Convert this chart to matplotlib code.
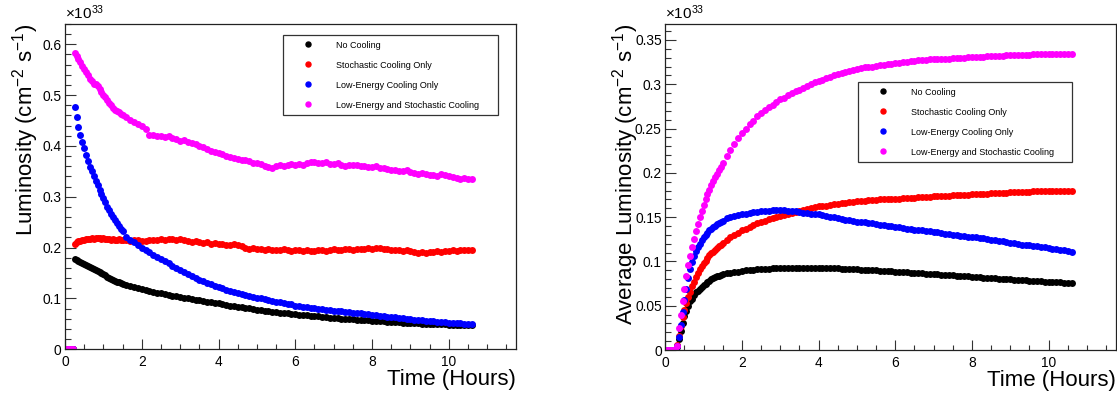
import matplotlib
matplotlib.use("Agg")
import matplotlib.pyplot as plt
from matplotlib.ticker import MultipleLocator, FuncFormatter
from matplotlib.lines import Line2D

plt.rcParams['font.family'] = ['Liberation Sans', 'DejaVu Sans']
plt.rcParams['mathtext.fontset'] = 'custom'
plt.rcParams['mathtext.rm'] = 'Liberation Sans'
plt.rcParams['mathtext.it'] = 'Liberation Sans:italic'
plt.rcParams['mathtext.bf'] = 'Liberation Sans:bold'

# ---------------- data (luminosity in units of 1e33 cm^-2 s^-1) ----------------
hours = [0.00, 0.05, 0.10, 0.15, 0.20,
         0.25, 0.30, 0.35, 0.40, 0.45, 0.50, 0.55, 0.60, 0.65, 0.70,
         0.75, 0.80, 0.85, 0.90, 0.95, 1.00, 1.05, 1.10, 1.15, 1.20,
         1.25, 1.30, 1.35, 1.40, 1.45, 1.50,
         1.6, 1.7, 1.8, 1.9, 2.0, 2.1, 2.2, 2.3, 2.4, 2.5,
         2.6, 2.7, 2.8, 2.9, 3.0, 3.1, 3.2, 3.3, 3.4, 3.5,
         3.6, 3.7, 3.8, 3.9, 4.0, 4.1, 4.2, 4.3, 4.4, 4.5,
         4.6, 4.7, 4.8, 4.9, 5.0, 5.1, 5.2, 5.3, 5.4, 5.5,
         5.6, 5.7, 5.8, 5.9, 6.0, 6.1, 6.2, 6.3, 6.4, 6.5,
         6.6, 6.7, 6.8, 6.9, 7.0, 7.1, 7.2, 7.3, 7.4, 7.5,
         7.6, 7.7, 7.8, 7.9, 8.0, 8.1, 8.2, 8.3, 8.4, 8.5,
         8.6, 8.7, 8.8, 8.9, 9.0, 9.1, 9.2, 9.3, 9.4, 9.5,
         9.6, 9.7, 9.8, 9.9, 10.0, 10.1, 10.2, 10.3, 10.4, 10.5,
         10.6]

series_labels = ["No Cooling", "Stochastic Cooling Only",
                 "Low-Energy Cooling Only", "Low-Energy and Stochastic Cooling"]
series_colors = ["#000000", "#ff0000", "#0000ff", "#ff00ff"]

# Left panel: instantaneous luminosity
lum_none = [0, 0, 0, 0, 0,
            .178, .176, .174, .172, .170, .168, .166, .164, .162, .160,
            .158, .156, .154, .152, .150, .148, .146, .143, .141, .139,
            .137, .135, .133, .132, .130, .128,
            .126, .124, .122, .120, .118, .116, .114, .113, .111, .110,
            .108, .107, .105, .104, .103, .101, .100, .098, .097, .096,
            .094, .093, .092, .091, .090, .089, .087, .086, .085, .084,
            .083, .082, .081, .079, .078, .077, .076, .075, .074, .073,
            .072, .071, .071, .070, .069, .068, .067, .067, .066, .065,
            .065, .064, .063, .062, .062, .061, .060, .060, .059, .059,
            .058, .058, .057, .057, .056, .056, .055, .055, .054, .054,
            .053, .053, .052, .052, .051, .051, .051, .050, .050, .050,
            .049, .049, .049, .049, .048, .048, .048, .048, .047, .047,
            .047]
lum_stoch = [0, 0, 0, 0, 0,
             .207, .210, .212, .213, .214, .215, .216, .217, .216, .218,
             .217, .218, .219, .218, .217, .218, .217, .216, .217, .215,
             .216, .214, .215, .216, .214, .215,
             .214, .213, .215, .214, .212, .213, .214, .215, .214, .216,
             .215, .217, .216, .215, .216, .214, .213, .211, .212, .210,
             .209, .211, .208, .209, .207, .208, .206, .205, .207, .205,
             .203, .200, .198, .199, .197, .198, .196, .197, .195, .196,
             .195, .197, .196, .194, .195, .196, .194, .195, .193, .194,
             .195, .196, .194, .196, .197, .195, .196, .198, .197, .196,
             .197, .198, .197, .199, .198, .200, .199, .198, .197, .196,
             .195, .196, .194, .195, .193, .191, .190, .191, .189, .191,
             .192, .193, .192, .194, .193, .195, .194, .196, .195, .196,
             .195]
lum_lowe = [0, 0, 0, 0, 0,
            .476, .456, .438, .422, .407, .395, .383, .370, .359, .350,
            .341, .332, .323, .314, .305, .297, .289, .280, .273, .266,
            .260, .254, .248, .242, .236, .232,
            .221, .215, .210, .205, .200, .195, .191, .186, .182, .178,
            .174, .169, .164, .160, .156, .152, .148, .144, .140, .137,
            .134, .131, .128, .125, .123, .120, .117, .115, .113, .111,
            .109, .107, .105, .103, .101, .100, .098, .096, .095, .093,
            .092, .090, .089, .088, .086, .085, .084, .083, .082, .081,
            .080, .079, .078, .077, .076, .075, .075, .074, .073, .072,
            .071, .071, .070, .069, .068, .067, .066, .065, .064, .063,
            .063, .062, .061, .060, .059, .058, .058, .057, .056, .055,
            .055, .054, .054, .053, .052, .052, .051, .051, .050, .050,
            .0495]
lum_both = [0, 0, 0, 0, 0,
            .583, .578, .572, .566, .558, .552, .546, .540, .532, .527,
            .522, .522, .517, .512, .506, .500, .496, .490, .485, .480,
            .474, .470, .468, .466, .462, .460,
            .457, .452, .448, .444, .439, .433, .421, .422, .420, .419,
            .418, .420, .416, .414, .410, .412, .408, .406, .403, .400,
            .398, .394, .390, .388, .386, .384, .380, .378, .377, .375,
            .373, .372, .370, .367, .366, .364, .361, .358, .356, .360,
            .362, .361, .363, .364, .362, .365, .363, .366, .368, .369,
            .367, .366, .368, .365, .364, .366, .363, .361, .363, .362,
            .362, .360, .361, .359, .358, .360, .357, .356, .354, .352,
            .353, .351, .350, .352, .349, .347, .345, .346, .344, .342,
            .343, .341, .344, .342, .340, .338, .337, .335, .336, .334,
            .334]

# Right panel: average luminosity
avg_none = [0, 0, 0, 0, 0,
            0, .003, .012, .022, .031, .038, .044, .050, .055, .058,
            .062, .065, .067, .069, .071, .073, .075, .077, .078, .080,
            .081, .082, .083, .084, .085, .0855,
            .0866, .0873, .0880, .0886, .0893, .0898, .0903, .0907, .0911, .0915,
            .0918, .0920, .0922, .0924, .0926, .0927, .0928, .0929, .0930, .0930,
            .0930, .0930, .0930, .0930, .0930, .0928, .0926, .0925, .0923, .0921,
            .0919, .0917, .0915, .0913, .0910, .0908, .0905, .0903, .0900, .0898,
            .0895, .0893, .0890, .0887, .0884, .0882, .0879, .0876, .0873, .0870,
            .0868, .0865, .0862, .0859, .0856, .0853, .0850, .0847, .0844, .0841,
            .0838, .0835, .0832, .0830, .0827, .0824, .0821, .0818, .0815, .0812,
            .0809, .0806, .0803, .0800, .0797, .0794, .0791, .0788, .0786, .0783,
            .0780, .0778, .0775, .0773, .0770, .0767, .0765, .0763, .0760, .0758,
            .0756]
avg_stoch = [0, 0, 0, 0, 0,
             0, .006, .016, .027, .037, .045, .053, .060, .066, .072,
             .077, .082, .087, .091, .095, .098, .101, .104, .107, .109,
             .111, .113, .115, .117, .119, .121,
             .124, .127, .130, .132, .135, .137, .139, .141, .143, .145,
             .146, .148, .149, .150, .151, .152, .154, .155, .156, .157,
             .158, .159, .160, .161, .162, .162, .163, .164, .165, .165,
             .166, .166, .167, .167, .168, .168, .168, .169, .169, .169,
             .170, .170, .170, .171, .171, .171, .172, .172, .172, .172,
             .173, .173, .173, .173, .174, .174, .174, .174, .174, .175,
             .175, .175, .175, .175, .176, .176, .176, .176, .176, .177,
             .177, .177, .177, .177, .178, .178, .178, .178, .178, .178,
             .179, .179, .179, .179, .179, .179, .180, .180, .180, .180,
             .180]
avg_lowe = [0, 0, 0, 0, 0,
            0, .004, .015, .028, .043, .057, .069, .081, .091, .099,
            .106, .112, .116, .120, .124, .127, .130, .132, .135, .137,
            .139, .140, .142, .143, .145, .146,
            .149, .150, .151, .152, .154, .154, .155, .156, .156, .157,
            .157, .157, .158, .158, .158, .158, .157, .157, .157, .156,
            .155, .155, .154, .153, .153, .152, .151, .150, .150, .149,
            .148, .147, .147, .146, .145, .145, .144, .143, .143, .142,
            .141, .141, .140, .140, .139, .139, .138, .137, .137, .136,
            .136, .135, .134, .134, .133, .133, .132, .131, .131, .130,
            .130, .129, .129, .128, .128, .127, .126, .126, .125, .124,
            .124, .123, .123, .122, .121, .121, .120, .119, .119, .118,
            .117, .117, .116, .116, .115, .114, .114, .113, .113, .112,
            .111]
avg_both = [0, 0, 0, 0, 0,
            0, .005, .025, .040, .055, .069, .083, .096, .106, .116,
            .125, .134, .142, .150, .157, .164, .170, .176, .181, .186,
            .191, .195, .199, .203, .207, .211,
            .219, .226, .233, .239, .245, .250, .255, .259, .264, .268,
            .271, .274, .277, .280, .283, .285, .288, .290, .292, .294,
            .296, .298, .300, .302, .304, .305, .307, .308, .310, .311,
            .313, .314, .315, .316, .317, .318, .319, .319, .320, .321,
            .322, .322, .323, .323, .324, .324, .325, .325, .326, .326,
            .327, .327, .327, .328, .328, .328, .329, .329, .329, .330,
            .330, .330, .330, .331, .331, .331, .331, .331, .332, .332,
            .332, .332, .332, .333, .333, .333, .333, .333, .333, .333,
            .334, .334, .334, .334, .334, .334, .334, .334, .334, .334,
            .334]

left_series = [lum_none, lum_stoch, lum_lowe, lum_both]
right_series = [avg_none, avg_stoch, avg_lowe, avg_both]

# ---------------- figure ----------------
W, H = 1117, 397
fig = plt.figure(figsize=(W / 100, H / 100), dpi=100)

def ax_rect(x0, x1, ytop, ybot):
    return [x0 / W, 1 - ybot / H, (x1 - x0) / W, (ybot - ytop) / H]

axL = fig.add_axes(ax_rect(65, 516, 24, 349.2))
axR = fig.add_axes(ax_rect(665.3, 1115.7, 24, 350))

fmt = FuncFormatter(lambda v, p: "%g" % round(v, 4))

def style(ax, ymax, ymaj, ymin, ylabel, legend_box):
    ax.set_xlim(0, 11.75)
    ax.set_ylim(0, ymax)
    ax.xaxis.set_major_locator(MultipleLocator(2))
    ax.xaxis.set_minor_locator(MultipleLocator(0.5))
    ax.yaxis.set_major_locator(MultipleLocator(ymaj))
    ax.yaxis.set_minor_locator(MultipleLocator(ymin))
    ax.yaxis.set_major_formatter(fmt)
    ax.xaxis.set_major_formatter(fmt)
    ax.tick_params(axis='both', which='both', direction='in', top=False, right=False,
                   labelsize=9.9, width=0.8, color='#333333')
    ax.tick_params(axis='x', which='major', length=7.2, pad=4)
    ax.tick_params(axis='x', which='minor', length=3.6)
    ax.tick_params(axis='y', which='major', length=8.0, pad=2.5)
    ax.tick_params(axis='y', which='minor', length=4.3)
    for s in ax.spines.values():
        s.set_linewidth(0.9)
        s.set_color('#222222')
    ax.set_xlabel("Time (Hours)", fontsize=16, loc='right')
    ax.xaxis.set_label_coords(1.0, -0.062)
    ax.set_ylabel(ylabel, fontsize=16, loc='top')
    ax.yaxis.set_label_coords(-0.054, 1.0)
    ax.text(0.0, 1.006, r"$\times10^{33}$", transform=ax.transAxes,
            ha='left', va='bottom', fontsize=11)
    handles = [Line2D([], [], linestyle='none', marker='o', markersize=3.6,
                      markerfacecolor=c, markeredgecolor=c) for c in series_colors]
    x0, ytop, w = legend_box
    leg = ax.legend(handles, series_labels, loc='upper left',
                    bbox_to_anchor=(x0, ytop - 0.3, w, 0.3), mode='expand',
                    borderaxespad=0, fontsize=6.5, frameon=True, fancybox=False,
                    edgecolor='#333333', framealpha=1, labelspacing=1.22,
                    borderpad=0.62, handlelength=4.4, handletextpad=0.86,
                    numpoints=1)
    leg.get_frame().set_linewidth(0.9)

for series, color in zip(left_series, series_colors):
    axL.plot(hours, series, linestyle='none', marker='o', markersize=5.0,
             markerfacecolor=color, markeredgecolor=color, markeredgewidth=0)
for series, color in zip(right_series, series_colors):
    axR.plot(hours, series, linestyle='none', marker='o', markersize=5.0,
             markerfacecolor=color, markeredgecolor=color, markeredgewidth=0)

ylab_L = r"Luminosity (cm$^{-2}$ s$^{-1}$)"
ylab_R = r"Average Luminosity (cm$^{-2}$ s$^{-1}$)"
style(axL, 0.64, 0.1, 0.02, ylab_L, ((283 - 65) / 451, (349.2 - 35) / 325.2, (498 - 283) / 451))
style(axR, 0.368, 0.05, 0.01, ylab_R, ((858 - 665.3) / 450.4, (350 - 82) / 326, (1072 - 858) / 450.4))

fig.savefig("out.png", dpi=100)
